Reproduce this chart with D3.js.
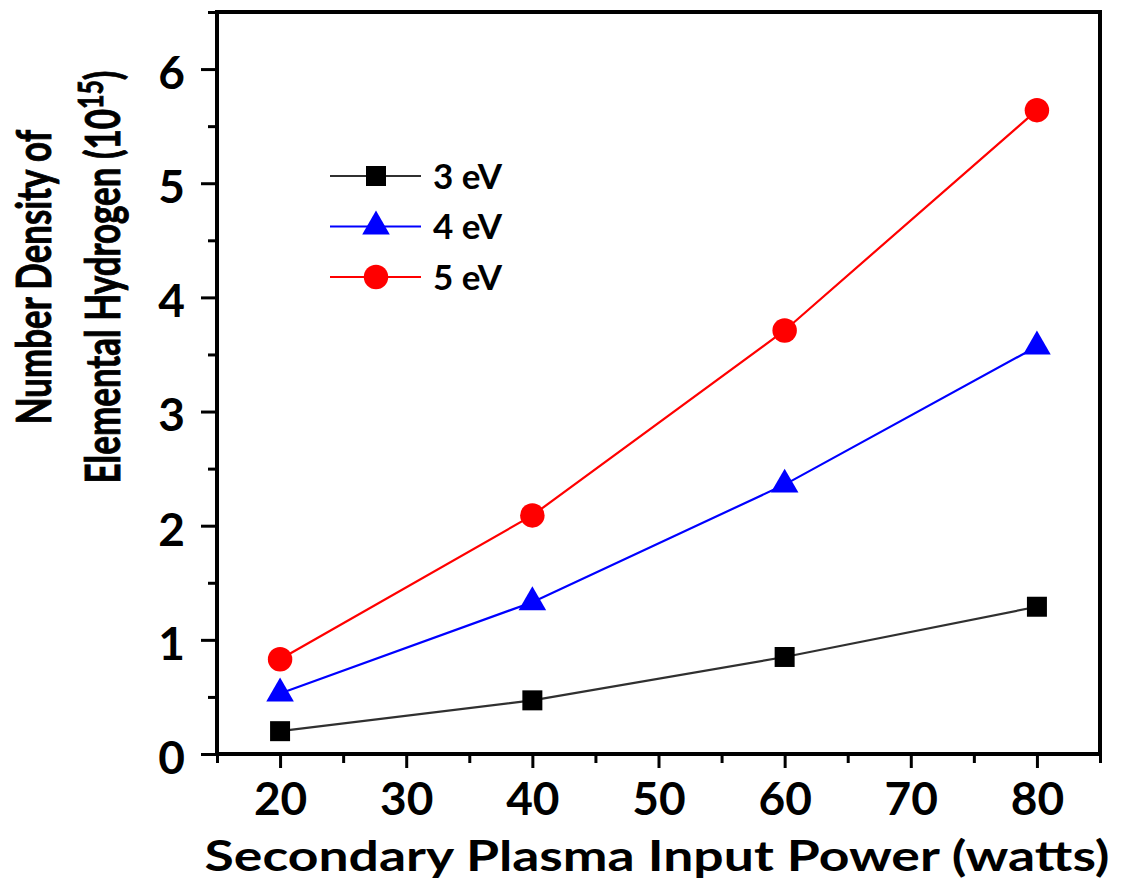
<!DOCTYPE html>
<html>
<head>
<meta charset="utf-8">
<script src="https://cdn.jsdelivr.net/npm/d3@7"></script>
<style>
  body { margin: 0; background: #fff; }
  text { font-family: Lato, "Open Sans", sans-serif; font-weight: bold; fill: #000; }
</style>
</head>
<body>
<svg id="chart" width="1126" height="890"></svg>
<script>

var powers = [20, 40, 60, 80];
var series3eV = [0.20, 0.47, 0.85, 1.29];
var series4eV = [0.53, 1.33, 2.36, 3.57];
var series5eV = [0.83, 2.09, 3.71, 5.64];
var seriesNames = ["3 eV", "4 eV", "5 eV"];
var xTicks = [20, 30, 40, 50, 60, 70, 80];
var yTicks = [0, 1, 2, 3, 4, 5, 6];

var svg = d3.select("#chart");
svg.margin = {left: 217, top: 12, right: 26, bottom: 136};
svg.width = 1126 - svg.margin.left - svg.margin.right;
svg.height = 890 - svg.margin.top - svg.margin.bottom;

var x = d3.scaleLinear().domain([15, 85]).range([0, svg.width]);
var y = d3.scaleLinear().domain([0, 6.5]).range([svg.height, 0]);

var g = svg.append("g").attr("transform", "translate(" + [svg.margin.left, svg.margin.top] + ")");

/************************************************************************************************************/

// minor ticks first, then major ticks with labels
var axisStyle = function(sel){
  sel.select(".domain").remove();
  sel.selectAll(".tick line").attr("stroke", "#000").attr("stroke-width", 3);
};

g.append("g").attr("transform", "translate(0," + svg.height + ")")
  .call(d3.axisBottom(x).tickValues(d3.range(15, 86, 10)).tickSize(9).tickFormat(""))
  .call(axisStyle);

g.append("g").attr("transform", "translate(0," + svg.height + ")")
  .call(d3.axisBottom(x).tickValues(xTicks).tickSize(14).tickPadding(14).tickFormat(d3.format("d")))
  .call(axisStyle)
  .selectAll("text").attr("font-size", 46).style("font-family", "Lato").style("font-weight", "bold");

g.append("g")
  .call(d3.axisLeft(y).tickValues(d3.range(0.5, 6.6, 1)).tickSize(9).tickFormat(""))
  .call(axisStyle);

g.append("g")
  .call(d3.axisLeft(y).tickValues(yTicks).tickSize(16).tickPadding(16).tickFormat(d3.format("d")))
  .call(axisStyle)
  .selectAll("text").attr("font-size", 46).attr("dy", "0.42em")
  .style("font-family", "Lato").style("font-weight", "bold");

// frame
g.append("rect")
  .attr("width", svg.width).attr("height", svg.height)
  .attr("fill", "none").attr("stroke", "#000").attr("stroke-width", 4);

/************************************************************************************************************/

var allSeries = [
  {name: seriesNames[0], values: series3eV, color: "#303030", fill: "#000", shape: d3.symbolSquare, size: 400},
  {name: seriesNames[1], values: series4eV, color: "#0000ff", fill: "#0000ff", shape: d3.symbolTriangle, size: 330},
  {name: seriesNames[2], values: series5eV, color: "#ff0000", fill: "#ff0000", shape: d3.symbolCircle, size: 470}
];

var line = d3.line().x(function(d){ return x(d[0]); }).y(function(d){ return y(d[1]); });

allSeries.forEach(function(s){
  var pts = powers.map(function(p, i){ return [p, s.values[i]]; });
  g.append("path").attr("d", line(pts))
    .attr("fill", "none").attr("stroke", s.color).attr("stroke-width", 2.2);
  g.selectAll(null).data(pts).enter().append("path")
    .attr("d", d3.symbol().type(s.shape).size(s.size))
    .attr("transform", function(d){ return "translate(" + [x(d[0]), y(d[1])] + ")"; })
    .attr("fill", s.fill);
});

// legend
var legend = svg.append("g").attr("transform", "translate(330,176)");
allSeries.forEach(function(s, i){
  var row = legend.append("g").attr("transform", "translate(0," + (i * 50.5) + ")");
  row.append("line").attr("x1", 0).attr("x2", 91)
    .attr("stroke", s.color).attr("stroke-width", 2.2);
  row.append("path").attr("d", d3.symbol().type(s.shape).size(s.size))
    .attr("transform", "translate(46,0)").attr("fill", s.fill);
  row.append("text").attr("x", 103).attr("dy", "0.36em")
    .attr("font-size", 35).text(s.name);
});

/************************************************************************************************************/

// squeeze/stretch a centred text along its own direction to a measured length
function fitText(sel, target){
  var len = sel.node().getBBox().width;
  sel.attr("transform", "scale(" + (target / len) + ",1)");
}

var xlab = svg.append("g").attr("transform", "translate(657,871)").append("text")
  .attr("x", 0).attr("y", 0)
  .attr("text-anchor", "middle")
  .attr("font-size", 42)
  .text("Secondary Plasma Input Power (watts)");
fitText(xlab, 905);

var ylab = svg.append("g").attr("transform", "translate(0,277) rotate(-90)");
var ylab1 = ylab.append("text")
  .attr("y", 51).attr("text-anchor", "middle").attr("font-size", 48)
  .attr("stroke", "#000").attr("stroke-width", 0.9)
  .text("Number Density of");
fitText(ylab1, 295);

var ylab2 = ylab.append("text")
  .attr("y", 120).attr("text-anchor", "middle").attr("font-size", 48)
  .attr("stroke", "#000").attr("stroke-width", 0.9);
ylab2.append("tspan").text("Elemental Hydrogen (10");
ylab2.append("tspan").attr("font-size", 34).attr("dy", -17).text("15");
ylab2.append("tspan").attr("dy", 17).text(")");
fitText(ylab2, 413);

</script>
</body>
</html>
